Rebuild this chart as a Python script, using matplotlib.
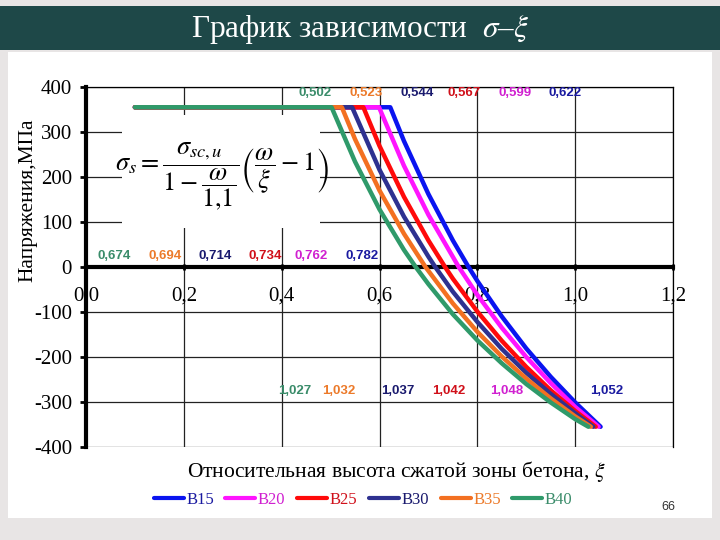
import matplotlib
matplotlib.use("Agg")
import matplotlib.pyplot as plt
from matplotlib.patches import Rectangle

plt.rcParams['font.family'] = ['Liberation Serif', 'DejaVu Serif']
plt.rcParams['mathtext.fontset'] = 'stix'

# Данные кривых
xi_b15 = [0.10, 0.622, 0.65, 0.70, 0.75, 0.782, 0.80, 0.85, 0.90, 0.95, 1.00, 1.052]
sig_b15 = [355, 355, 280, 162, 59, 0, -31, -110, -181, -244, -301, -355]

xi_b20 = [0.10, 0.599, 0.65, 0.70, 0.762, 0.80, 0.85, 0.90, 0.95, 1.00, 1.048]
sig_b20 = [355, 355, 225, 116, 0, -62, -135, -200, -258, -311, -355]

xi_b25 = [0.10, 0.567, 0.60, 0.65, 0.70, 0.734, 0.75, 0.80, 0.85, 0.90, 0.95, 1.00, 1.042]
sig_b25 = [355, 355, 269, 156, 59, 0, -26, -99, -164, -222, -274, -320, -355]

xi_b30 = [0.10, 0.544, 0.60, 0.65, 0.70, 0.714, 0.75, 0.80, 0.85, 0.90, 0.95, 1.00, 1.037]
sig_b30 = [355, 355, 216, 112, 23, 0, -55, -122, -182, -235, -282, -325, -355]

xi_b35 = [0.10, 0.523, 0.55, 0.60, 0.65, 0.694, 0.75, 0.80, 0.85, 0.90, 0.95, 1.00, 1.032]
sig_b35 = [355, 355, 284, 170, 74, 0, -81, -144, -199, -248, -292, -332, -355]

xi_b40 = [0.10, 0.502, 0.55, 0.60, 0.65, 0.674, 0.70, 0.75, 0.80, 0.85, 0.90, 0.95, 1.00, 1.027]
sig_b40 = [355, 355, 234, 128, 38, 0, -38, -105, -163, -214, -260, -301, -338, -355]

names = ['B15', 'B20', 'B25', 'B30', 'B35', 'B40']
line_colors = ['#0a14f0', '#ff14ff', '#ff0a0a', '#2e3190', '#f37021', '#2f9a6a']
text_colors = ['#1a1aa0', '#d020d0', '#d0101a', '#1a1a6e', '#ec7a2a', '#3a8c6a']

# Подписи значений ξ
top_labels = ['0,622', '0,599', '0,567', '0,544', '0,523', '0,502']
top_x = [0.98, 0.877, 0.773, 0.677, 0.573, 0.468]
mid_labels = ['0,782', '0,762', '0,734', '0,714', '0,694', '0,674']
mid_x = [0.565, 0.46, 0.366, 0.264, 0.162, 0.058]
bot_labels = ['1,052', '1,048', '1,042', '1,037', '1,032', '1,027']
bot_x = [1.065, 0.859, 0.742, 0.638, 0.516, 0.427]

xticks = [0.0, 0.2, 0.4, 0.6, 0.8, 1.0, 1.2]
yticks = [-400, -300, -200, -100, 0, 100, 200, 300, 400]

fig = plt.figure(figsize=(7.2, 5.4), dpi=100, facecolor='#e8e5e5')

# фон слайда
fig.patches.append(Rectangle((8 / 720, 1 - 518 / 540), 704 / 720, 466 / 540,
                             transform=fig.transFigure, facecolor='white',
                             edgecolor='none', zorder=-10))
fig.patches.append(Rectangle((0, 1 - 50 / 540), 1, 44 / 540,
                             transform=fig.transFigure, facecolor='#1e4848',
                             edgecolor='none', zorder=-10))
fig.text(0.5, 1 - 29 / 540, 'График зависимости  $\\sigma$–$\\xi$', color='white',
         fontsize=22.5, ha='center', va='center')

ax = fig.add_axes([86 / 720, 1 - 447 / 540, 587 / 720, 360 / 540])
ax.set_facecolor('none')

all_xi = [xi_b15, xi_b20, xi_b25, xi_b30, xi_b35, xi_b40]
all_sig = [sig_b15, sig_b20, sig_b25, sig_b30, sig_b35, sig_b40]
for xs, ys, nm, c in zip(all_xi, all_sig, names, line_colors):
    ax.plot(xs, ys, color=c, lw=3.2, label=nm, solid_capstyle='round', zorder=3)

ax.set_xlim(0, 1.2)
ax.set_ylim(-400, 400)
ax.set_xticks(xticks)
ax.set_yticks(yticks)
ax.set_xticklabels([f'{v:.1f}'.replace('.', ',') for v in xticks])
ax.set_yticklabels([str(v) for v in yticks])
ax.grid(True, color='#222222', lw=0.9, zorder=1)
ax.spines['bottom'].set_position(('data', 0))
ax.spines['bottom'].set_linewidth(3)
ax.spines['left'].set_linewidth(3)
ax.spines['top'].set_linewidth(0.9)
ax.spines['right'].set_linewidth(0.9)
ax.tick_params(axis='y', length=4, width=2, direction='out', pad=6, labelsize=15)
ax.tick_params(axis='x', length=4, width=2, direction='inout', pad=12, labelsize=15)

# подписи
for lbs, xs, yv in [(top_labels, top_x, 387), (mid_labels, mid_x, 24), (bot_labels, bot_x, -275)]:
    for t, xv, c in zip(lbs, xs, text_colors):
        ax.text(xv, yv, t, color=c, fontsize=9.5, fontweight='bold',
                family='Liberation Sans', ha='center', va='center', zorder=6)

# формула на белой подложке
ax.add_patch(Rectangle((0.074, 87), 0.405, 250, facecolor='white',
                       edgecolor='none', zorder=2))
ax.text(0.277, 200,
        r'$\sigma_s=\dfrac{\sigma_{sc,u}}{1-\dfrac{\omega}{1{,}1}}\left(\dfrac{\omega}{\xi}-1\right)$',
        fontsize=19, ha='center', va='center', zorder=4)

fig.text(28 / 720, 1 - 200 / 540, 'Напряжения,МПа', rotation=90, fontsize=15.5,
         ha='center', va='center')
fig.text(396 / 720, 1 - 472 / 540, 'Относительная высота сжатой зоны бетона, $\\xi$',
         fontsize=15.5, ha='center', va='center')

leg = fig.legend(loc='center', bbox_to_anchor=(363 / 720, 1 - 500 / 540), ncol=6,
                 frameon=False, fontsize=12, handlelength=1.8, handletextpad=0.15,
                 columnspacing=0.7)
for txt, c in zip(leg.get_texts(), text_colors):
    txt.set_color(c)
for ln in leg.get_lines():
    ln.set_linewidth(3)

fig.text(668 / 720, 1 - 507 / 540, '66', fontsize=9, family='Liberation Sans',
         color='#333333', ha='center', va='center')

fig.savefig('out.png', dpi=100, facecolor=fig.get_facecolor())
